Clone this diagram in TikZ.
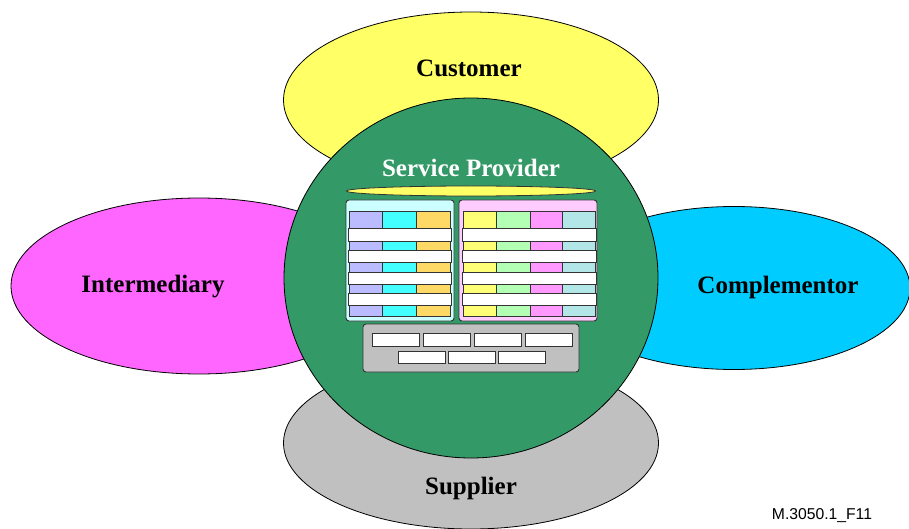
\documentclass[tikz,border=0pt]{standalone}
\usepackage{fontspec}
\setmainfont{Liberation Serif}
\newfontfamily\figsans{Liberation Sans}
\usetikzlibrary{shapes.geometric}
\definecolor{custY}{HTML}{FFFF66}
\definecolor{interM}{HTML}{FF66FF}
\definecolor{compC}{HTML}{00CCFF}
\definecolor{suppG}{HTML}{C0C0C0}
\definecolor{provG}{HTML}{339966}
\definecolor{panL}{HTML}{CCFFFF}
\definecolor{panR}{HTML}{FFCCFF}
\definecolor{cLav}{HTML}{BBBBFF}
\definecolor{cCy}{HTML}{44FFFF}
\definecolor{cOr}{HTML}{FFD966}
\definecolor{cYe}{HTML}{FFFF77}
\definecolor{cGr}{HTML}{B3FFB3}
\definecolor{cPk}{HTML}{FF99FF}
\definecolor{cTe}{HTML}{B3E6E6}
\definecolor{edgeD}{HTML}{333333}
\begin{document}
\begin{tikzpicture}[x=1pt,y=-1pt,
  party/.style={ellipse, draw=black, line width=0.8pt, inner sep=0pt},
  bigtext/.style={font=\fontsize{25}{29}\selectfont\bfseries, inner sep=0pt},
  panel/.style={draw=edgeD, line width=0.9pt, rounded corners=3pt},
  colbox/.style={draw=edgeD, line width=0.8pt},
  bar/.style={draw=gray!40!black, fill=white, line width=1pt},
  smallbox/.style={draw=gray!40!black, fill=white, line width=1pt}]
\useasboundingbox (0,0) rectangle (909,529);
\fill[white] (0,0) rectangle (909,529);
% outer parties
\node[party, fill=custY, minimum width=375pt, minimum height=176pt] (cust) at (471,100) {};
\node[party, fill=interM, minimum width=376pt, minimum height=176pt] (inter) at (199,286) {};
\node[party, fill=compC, minimum width=352pt, minimum height=163pt] (comp) at (734,288) {};
\node[party, fill=suppG, minimum width=375pt, minimum height=172pt] (supp) at (471,443) {};
% service provider
\node[party, fill=provG, minimum width=374pt, minimum height=360pt] (prov) at (471,278) {};
% labels
\node[bigtext] (custT) at (469,68) {Customer};
\node[bigtext] (interT) at (153,287) {Intermediary};
\node[bigtext] (compT) at (778,287) {Complementor};
\node[bigtext] (suppT) at (471,488) {Supplier};
\node[bigtext, text=white] (provT) at (471,168) {Service Provider};
% small yellow ellipse
\node[ellipse, draw=edgeD, line width=0.8pt, fill=custY, inner sep=0pt, minimum width=249pt, minimum height=10pt] (top) at (471,191) {};
% left panel
\draw[panel, fill=panL] (346,200) rectangle (454,321);
\foreach \xa/\xb/\c in {349/382/cLav, 382/416/cCy, 416/450/cOr}
  \draw[colbox, fill=\c] (\xa,211) rectangle (\xb,316);
\foreach \y in {229,250,272,293}
  \draw[bar] (348,\y) rectangle (451,\y+12);
% right panel
\draw[panel, fill=panR] (459,200) rectangle (597,321);
\foreach \xa/\xb/\c in {463/496/cYe, 496/530/cGr, 530/562/cPk, 562/595/cTe}
  \draw[colbox, fill=\c] (\xa,211) rectangle (\xb,316);
\foreach \y in {229,250,272,293}
  \draw[bar] (462,\y) rectangle (596,\y+12);
% bottom gray box
\draw[panel, fill=suppG] (363,324) rectangle (579,372);
\foreach \xa in {372,423,474,525}
  \draw[smallbox] (\xa,333) rectangle (\xa+47,346);
\foreach \xa in {398,448,498}
  \draw[smallbox] (\xa,351) rectangle (\xa+47,363);
% figure id
\node[font=\figsans\fontsize{15.7}{18}\selectfont, inner sep=0pt] (fid) at (822,516) {M.3050.1\_F11};
\end{tikzpicture}
\end{document}
